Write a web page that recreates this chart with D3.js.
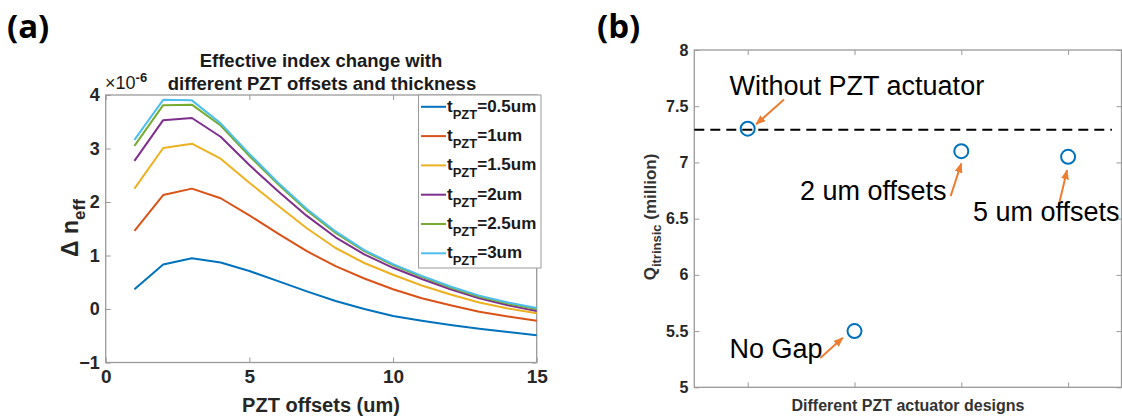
<!DOCTYPE html>
<html>
<head>
<meta charset="utf-8">
<script src="https://cdn.jsdelivr.net/npm/d3@7"></script>
<style>
body{margin:0;background:#fff}
svg{display:block}
text{font-family:"Liberation Sans",Arial,Helvetica,sans-serif}
</style>
</head>
<body>
<script>
// panel (a) data, values in units of 1e-6
var offsets = [1,2,3,4,5,6,7,8,9,10,11,12,13,14,15]
var thickness = ["0.5um","1um","1.5um","2um","2.5um","3um"]
var dn05 = [0.37,0.83,0.95,0.87,0.71,0.52,0.33,0.15,0.00,-0.13,-0.22,-0.30,-0.37,-0.43,-0.49]
var dn1  = [1.46,2.13,2.25,2.07,1.75,1.41,1.08,0.80,0.57,0.37,0.20,0.07,-0.05,-0.14,-0.22]
var dn15 = [2.25,3.01,3.09,2.81,2.36,1.93,1.51,1.14,0.86,0.64,0.44,0.27,0.12,0.01,-0.08]
var dn2  = [2.77,3.53,3.57,3.22,2.69,2.20,1.74,1.34,1.02,0.77,0.56,0.37,0.20,0.07,-0.04]
var dn25 = [3.05,3.81,3.82,3.43,2.86,2.33,1.84,1.42,1.08,0.82,0.60,0.40,0.23,0.10,0.00]
var dn3  = [3.16,3.91,3.90,3.47,2.90,2.36,1.87,1.45,1.10,0.84,0.62,0.42,0.25,0.12,0.02]
var xTicksA = [0,5,10,15]
var yTicksA = [-1,0,1,2,3,4]

// panel (b) data, Q in million
var designs = [1,2,3,4]
var qValues = [7.30,5.50,7.10,7.05]
var qRef = 7.29
var yTicksB = [5,5.5,6,6.5,7,7.5,8]
var noteText = ["Without PZT actuator","No Gap","2 um offsets","5 um offsets"]
var noteX = [0.83,0.83,1.49,3.11]
var noteY = [7.60,5.26,6.67,6.48]
var arrowFromX = [1.34,1.68,2.90,3.92]
var arrowFromY = [7.56,5.26,6.70,6.65]
var arrowToX = [1.08,1.89,3.00,3.99]
var arrowToY = [7.34,5.44,6.99,6.93]

var colors = ["#0072BD","#D95319","#EDB120","#7E2F8E","#77AC30","#4DBEEE"]
var series = [dn05,dn1,dn15,dn2,dn25,dn3]

var width = 1122, height = 419
var axisColor = "#9a9a9a", textColor = "#262626"

var svg = d3.select("body").append("svg")
  .attr("width",width).attr("height",height)

var defs = svg.append("defs")
defs.append("marker").attr("id","arr")
  .attr("viewBox","0 0 10 8").attr("refX",9).attr("refY",4)
  .attr("markerWidth",10).attr("markerHeight",8)
  .attr("markerUnits","userSpaceOnUse").attr("orient","auto")
  .append("path").attr("d","M0,0L10,4L0,8Z").attr("fill","#ED7D31")

// panel letters
svg.append("text").text("(a)").attr("x",7).attr("y",38)
  .style("font-family","'Open Sans',sans-serif").style("font-weight","700").style("font-size","33px")
svg.append("text").text("(b)").attr("x",597).attr("y",38)
  .style("font-family","'Open Sans',sans-serif").style("font-weight","700").style("font-size","33px")

// ---------- panel (a)
var xa = d3.scaleLinear().domain([0,15]).range([105.7,536.7])
var ya = d3.scaleLinear().domain([-1,4]).range([362.5,95])

function frame(g, x, y, xt, yt, xfmt, yfmt, xfs, yfs){
  g.append("g").attr("transform","translate(0,"+y.range()[0]+")")
    .call(d3.axisBottom(x).tickValues(xt).tickSize(-5).tickPadding(7).tickFormat(xfmt))
    .call(a=>a.select(".domain").remove())
    .call(a=>a.selectAll("line").attr("stroke",axisColor))
    .call(a=>a.selectAll("text").attr("fill",textColor).style("font-weight","700").style("font-size",xfs).style("font-family","'Liberation Sans',Arial,sans-serif"))
  g.append("g").attr("transform","translate(0,"+y.range()[1]+")")
    .call(d3.axisTop(x).tickValues(xt).tickSize(-5).tickFormat(""))
    .call(a=>a.select(".domain").remove())
    .call(a=>a.selectAll("line").attr("stroke",axisColor))
  g.append("g").attr("transform","translate("+x.range()[0]+",0)")
    .call(d3.axisLeft(y).tickValues(yt).tickSize(-5).tickPadding(6).tickFormat(yfmt))
    .call(a=>a.select(".domain").remove())
    .call(a=>a.selectAll("line").attr("stroke",axisColor))
    .call(a=>a.selectAll("text").attr("fill",textColor).style("font-weight","700").style("font-size",yfs).style("font-family","'Liberation Sans',Arial,sans-serif"))
  g.append("g").attr("transform","translate("+x.range()[1]+",0)")
    .call(d3.axisRight(y).tickValues(yt).tickSize(-5).tickFormat(""))
    .call(a=>a.select(".domain").remove())
    .call(a=>a.selectAll("line").attr("stroke",axisColor))
  g.append("rect").attr("x",x.range()[0]).attr("y",y.range()[1])
    .attr("width",x.range()[1]-x.range()[0]).attr("height",y.range()[0]-y.range()[1])
    .attr("fill","none").attr("stroke",axisColor).attr("stroke-width",1.3)
}

var ga = svg.append("g")
frame(ga, xa, ya, xTicksA, yTicksA, d3.format("d"), d3.format("d"), "19px", "18px")

var line = d3.line().x((d,i)=>xa(offsets[i])).y(d=>ya(d))
ga.selectAll("path.series").data(series).enter().append("path")
  .attr("class","series")
  .attr("d",line).attr("fill","none")
  .attr("stroke",(d,i)=>colors[i]).attr("stroke-width",2)
  .attr("stroke-linejoin","round")

// title
ga.append("text").text("Effective index change with").attr("x",321).attr("y",67)
  .attr("text-anchor","middle").style("font-weight","700").style("font-size","18.5px").attr("fill","#1a1a1a")
ga.append("text").text("different PZT offsets and thickness").attr("x",322).attr("y",90)
  .attr("text-anchor","middle").style("font-weight","700").style("font-size","18.5px").attr("fill","#1a1a1a")
var mult = ga.append("text").attr("x",105).attr("y",89).attr("fill","#1a1a1a").style("font-size","18px")
mult.append("tspan").text("\u00d710")
mult.append("tspan").text("-6").attr("dy",-7).style("font-size","13px").style("font-weight","700")

// axis labels
ga.append("text").text("PZT offsets (um)").attr("x",321).attr("y",412)
  .attr("text-anchor","middle").style("font-weight","700").style("font-size","20px").attr("fill",textColor)
var yl = ga.append("text").attr("transform","translate(78,228) rotate(-90)")
  .attr("text-anchor","middle").style("font-weight","700").style("font-size","23px").attr("fill",textColor)
yl.append("tspan").text("\u0394 n")
yl.append("tspan").text("eff").attr("dy",7).style("font-size","17px")

// legend
var lg = ga.append("g")
lg.append("rect").attr("x",418.5).attr("y",95).attr("width",122.5).attr("height",173)
  .attr("fill","#fff").attr("stroke",axisColor).attr("stroke-width",1)
thickness.forEach(function(t,i){
  var ly = 106.8 + i*29.3
  lg.append("line").attr("x1",421).attr("x2",446).attr("y1",ly).attr("y2",ly)
    .attr("stroke",colors[i]).attr("stroke-width",2)
  var tx = lg.append("text").attr("x",447).attr("y",ly+5)
    .style("font-weight","700").style("font-size","17px").attr("fill","#1a1a1a")
  tx.append("tspan").text("t")
  tx.append("tspan").text("PZT").attr("dy",7).style("font-size","13px")
  tx.append("tspan").text("="+t).attr("dy",-7)
})

// ---------- panel (b)
var xb = d3.scaleLinear().domain([0.5,4.5]).range([694.3,1121.5])
var yb = d3.scaleLinear().domain([5,8]).range([387.3,50])
var gb = svg.append("g")
frame(gb, xb, yb, designs, yTicksB, ()=>"", d=>d, "16px", "16px")

gb.append("line").attr("x1",xb(0.5)).attr("x2",xb(4.41)).attr("y1",yb(qRef)).attr("y2",yb(qRef))
  .attr("stroke","#000").attr("stroke-width",2).attr("stroke-dasharray","10,6")

gb.selectAll("circle").data(qValues).enter().append("circle")
  .attr("cx",(d,i)=>xb(designs[i])).attr("cy",d=>yb(d)).attr("r",7)
  .attr("fill","none").attr("stroke","#0072BD").attr("stroke-width",2)

gb.selectAll("text.note").data(noteText).enter().append("text").attr("class","note")
  .text(d=>d).attr("x",(d,i)=>xb(noteX[i])).attr("y",(d,i)=>yb(noteY[i]))
  .style("font-size","27px").attr("fill","#000")

gb.selectAll("line.arrow").data(noteText).enter().append("line").attr("class","arrow")
  .attr("x1",(d,i)=>xb(arrowFromX[i])).attr("y1",(d,i)=>yb(arrowFromY[i]))
  .attr("x2",(d,i)=>xb(arrowToX[i])).attr("y2",(d,i)=>yb(arrowToY[i]))
  .attr("stroke","#ED7D31").attr("stroke-width",2).attr("marker-end","url(#arr)")

gb.append("text").text("Different PZT actuator designs").attr("x",908).attr("y",411)
  .attr("text-anchor","middle").style("font-weight","700").style("font-size","16px").attr("fill","#333")
var ql = gb.append("text").attr("transform","translate(656,217) rotate(-90)")
  .attr("text-anchor","middle").style("font-weight","700").style("font-size","17px").attr("fill","#333")
ql.append("tspan").text("Q")
ql.append("tspan").text("itrinsic").attr("dy",5).style("font-size","13px")
ql.append("tspan").text(" (million)").attr("dy",-5)
</script>
</body>
</html>
